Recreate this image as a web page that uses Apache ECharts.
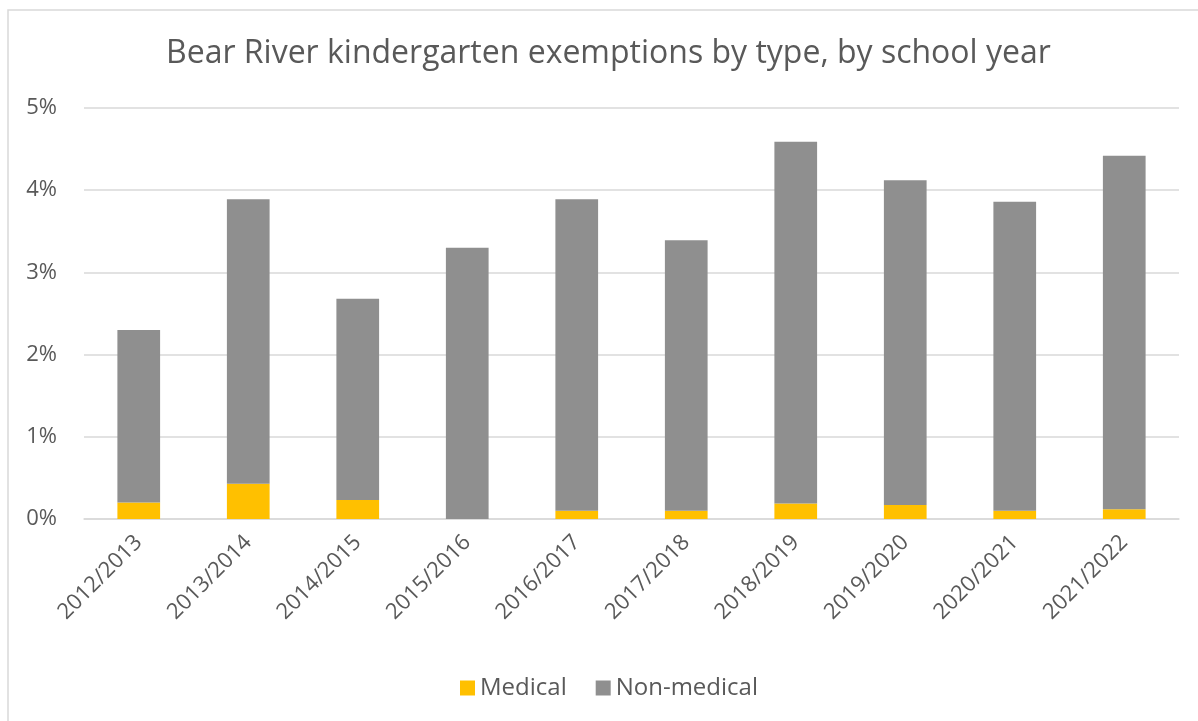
<!DOCTYPE html>
<html>
<head>
<meta charset="utf-8">
<script src="https://cdn.jsdelivr.net/npm/echarts@6/dist/echarts.min.js"></script>
<style>
  html, body { margin: 0; padding: 0; background: #fff; }
  #main { width: 1198px; height: 721px; }
</style>
</head>
<body>
<div id="main"></div>
<script>
// school years along the x axis
var years = ['2012/2013', '2013/2014', '2014/2015', '2015/2016', '2016/2017',
  '2017/2018', '2018/2019', '2019/2020', '2020/2021', '2021/2022'];
// percent of kindergartners
var medical = [0.20, 0.43, 0.23, 0.00, 0.10, 0.10, 0.19, 0.17, 0.10, 0.12];
var nonMedical = [2.10, 3.46, 2.45, 3.30, 3.79, 3.29, 4.40, 3.95, 3.76, 4.30];
var yTicks = [0, 1, 2, 3, 4, 5];

var chart = echarts.init(document.getElementById('main'));
var font = '"Open Sans", "Noto Sans", sans-serif';

var option = {
  animation: false,
  textStyle: { fontFamily: font },
  graphic: [{
    type: 'rect',
    shape: { x: 8, y: 10, width: 1200, height: 720 },
    style: { fill: 'none', stroke: '#d9d9d9', lineWidth: 1.5 },
    silent: true
  }],
  title: {
    text: 'Bear River kindergarten exemptions by type, by school year',
    left: 161,
    top: 33,
    textStyle: { fontFamily: font, fontSize: 32, fontWeight: 'normal', color: '#595959' }
  },
  legend: {
    bottom: 16,
    left: 455,
    itemWidth: 15,
    itemHeight: 15,
    itemGap: 29,
    icon: 'rect',
    textStyle: { fontFamily: font, fontSize: 24, color: '#595959' },
    data: ['Medical', 'Non-medical']
  },
  grid: { left: 84, right: 19, top: 108, bottom: 202, containLabel: false },
  xAxis: {
    type: 'category',
    data: years,
    axisTick: { show: false },
    axisLine: { lineStyle: { color: '#d9d9d9', width: 1.5 } },
    axisLabel: {
      rotate: 45,
      margin: 20,
      fontFamily: font,
      fontSize: 22,
      color: '#595959'
    }
  },
  yAxis: {
    type: 'value',
    min: yTicks[0],
    max: yTicks[yTicks.length - 1],
    interval: 1,
    axisLine: { show: false },
    axisTick: { show: false },
    splitLine: { lineStyle: { color: '#d9d9d9', width: 1.5 } },
    axisLabel: {
      margin: 27,
      fontFamily: font,
      fontSize: 22,
      color: '#595959',
      formatter: '{value}%'
    }
  },
  series: [{
    name: 'Medical',
    type: 'bar',
    stack: 'total',
    barWidth: '39%',
    data: medical,
    itemStyle: { color: '#FFC000' }
  }, {
    name: 'Non-medical',
    type: 'bar',
    stack: 'total',
    barWidth: '39%',
    data: nonMedical,
    itemStyle: { color: '#8F8F8F' }
  }]
};

chart.setOption(option);
</script>
</body>
</html>
